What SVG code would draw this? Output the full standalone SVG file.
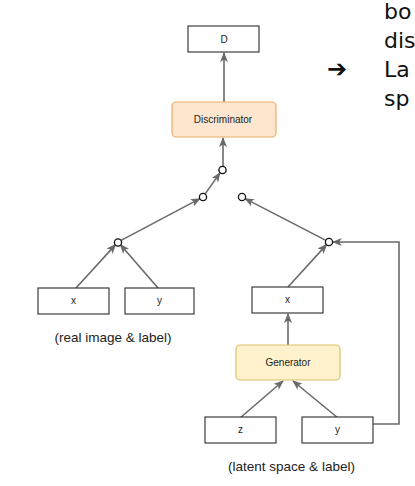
<svg xmlns="http://www.w3.org/2000/svg" width="415" height="486" viewBox="0 0 415 486">
  <style>
    .box { fill: #ffffff; stroke: #2b2b2b; stroke-width: 1.1; }
    .disc { fill: #fde6cd; stroke: #e5b06b; stroke-width: 1.2; }
    .gen { fill: #fff2cc; stroke: #dcc06a; stroke-width: 1.2; }
    .lbl { font-family: "Liberation Sans", Arial, sans-serif; font-size: 10px; fill: #222222; text-anchor: middle; }
    .cap { font-family: "Liberation Sans", Arial, sans-serif; font-size: 13.5px; fill: #222222; text-anchor: middle; }
    .big { font-family: "DejaVu Sans", sans-serif; font-size: 22px; fill: #111111; }
    .conn { fill: none; stroke: #6a6a6a; stroke-width: 1.6; marker-end: url(#arr); }
    .node-c { fill: #ffffff; stroke: #111111; stroke-width: 1.3; }
  </style>
  <defs>
    <marker id="arr" markerWidth="10" markerHeight="8" refX="9" refY="4" orient="auto" markerUnits="userSpaceOnUse">
      <path d="M0,0 L10,4 L0,8 L2.5,4 z" fill="#6a6a6a"/>
    </marker>
  </defs>
  <rect width="415" height="486" fill="#ffffff"/>

  <g id="connectors">
    <line class="conn" x1="224" y1="102" x2="224" y2="53"/>
    <line class="conn" x1="223" y1="166.5" x2="223" y2="138"/>
    <line class="conn" x1="205" y1="194.1" x2="220" y2="172.9"/>
    <line class="conn" x1="121.1" y1="240.4" x2="199.9" y2="198.6"/>
    <line class="conn" x1="76" y1="288" x2="115.6" y2="244.6"/>
    <line class="conn" x1="158" y1="288" x2="120.3" y2="244.6"/>
    <line class="conn" x1="325.9" y1="240.4" x2="245.1" y2="198.6"/>
    <line class="conn" x1="288" y1="287" x2="326.6" y2="244.6"/>
    <polyline class="conn" points="373,424 399,424 399,242 332.8,242"/>
    <line class="conn" x1="288" y1="345" x2="288" y2="314"/>
    <line class="conn" x1="240" y1="418" x2="283" y2="381"/>
    <line class="conn" x1="338" y1="418" x2="293" y2="381"/>
  </g>

  <g id="node-D">
    <rect class="box" x="188" y="26" width="71" height="26"/>
    <text class="lbl" x="224" y="42.5">D</text>
  </g>
  <g id="node-discriminator">
    <rect class="disc" x="172" y="102" width="104" height="35" rx="4"/>
    <text class="lbl" x="223" y="123">Discriminator</text>
  </g>
  <g id="node-join-top"><circle class="node-c" cx="222.5" cy="170" r="3.6"/></g>
  <g id="node-join-left"><circle class="node-c" cx="203" cy="197" r="3.6"/></g>
  <g id="node-join-right"><circle class="node-c" cx="242" cy="197" r="3.6"/></g>
  <g id="node-join-real"><circle class="node-c" cx="118" cy="242.5" r="3.6"/></g>
  <g id="node-join-fake"><circle class="node-c" cx="329" cy="242" r="3.6"/></g>

  <g id="node-real-x">
    <rect class="box" x="38" y="288" width="71" height="26"/>
    <text class="lbl" x="73.5" y="304">x</text>
  </g>
  <g id="node-real-y">
    <rect class="box" x="125" y="288" width="69" height="26"/>
    <text class="lbl" x="159.5" y="304">y</text>
  </g>
  <g id="caption-real">
    <text class="cap" x="113" y="341.5">(real image &amp; label)</text>
  </g>

  <g id="node-fake-x">
    <rect class="box" x="252" y="287" width="71" height="26"/>
    <text class="lbl" x="287.5" y="303">x</text>
  </g>
  <g id="node-generator">
    <rect class="gen" x="236" y="345" width="104" height="35" rx="4"/>
    <text class="lbl" x="288" y="366">Generator</text>
  </g>
  <g id="node-z">
    <rect class="box" x="205" y="417" width="71" height="26"/>
    <text class="lbl" x="240.5" y="433">z</text>
  </g>
  <g id="node-fake-y">
    <rect class="box" x="302" y="417" width="71" height="26"/>
    <text class="lbl" x="337.5" y="433">y</text>
  </g>
  <g id="caption-latent">
    <text class="cap" x="291.5" y="471">(latent space &amp; label)</text>
  </g>

  <g id="side-text">
    <text x="327" y="77" style="font-family:'DejaVu Sans',sans-serif;font-size:24px;font-weight:bold;fill:#111111">➔</text>
    <text class="big" x="384" y="19">bo</text>
    <text class="big" x="384" y="48">dis</text>
    <text class="big" x="384" y="77">La</text>
    <text class="big" x="384" y="106">sp</text>
  </g>
</svg>
